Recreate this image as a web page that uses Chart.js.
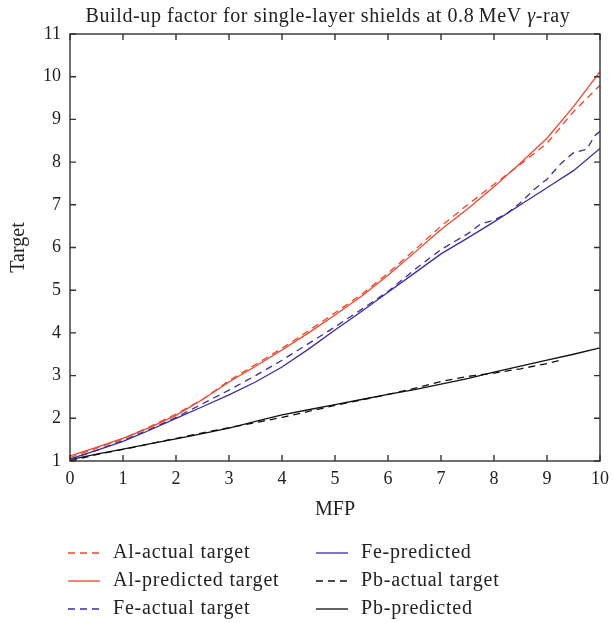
<!DOCTYPE html>
<html>
<head>
<meta charset="utf-8">
<script src="https://cdn.jsdelivr.net/npm/chart.js@4/dist/chart.umd.min.js"></script>
<style>
  html, body { margin: 0; padding: 0; background: #fff; }
  #wrap { width: 613px; height: 622px; }
</style>
</head>
<body>
<div id="wrap"><canvas id="buildup"></canvas></div>
<script>
// MFP values (x) shared by most series
var mfp = [0, 0.5, 1, 1.5, 2, 2.5, 3, 3.5, 4, 4.5, 5, 5.5, 6, 6.5, 7, 7.5, 8, 8.5, 9, 9.5, 10];

// Al
var alActual    = [1.08, 1.30, 1.52, 1.80, 2.10, 2.44, 2.88, 3.26, 3.64, 4.05, 4.47, 4.90, 5.40, 5.94, 6.50, 7.00, 7.48, 7.95, 8.44, 9.18, 9.80];
var alPredicted = [1.12, 1.32, 1.53, 1.78, 2.07, 2.44, 2.85, 3.22, 3.60, 4.00, 4.42, 4.86, 5.35, 5.88, 6.42, 6.90, 7.42, 7.98, 8.56, 9.30, 10.12];

// Fe
var feActualMfp = [0, 0.5, 1, 1.5, 2, 2.5, 3, 3.5, 4, 4.5, 5, 5.5, 6, 6.5, 7, 7.5, 7.75, 8, 8.25, 8.5, 8.75, 9, 9.25, 9.5, 9.75, 9.9, 10];
var feActual    = [1.03, 1.25, 1.48, 1.74, 2.02, 2.34, 2.66, 3.00, 3.36, 3.75, 4.14, 4.55, 4.97, 5.48, 5.95, 6.32, 6.55, 6.64, 6.80, 7.05, 7.35, 7.60, 7.95, 8.22, 8.30, 8.62, 8.72];
var fePredicted = [1.05, 1.25, 1.46, 1.72, 2.00, 2.27, 2.55, 2.85, 3.20, 3.62, 4.07, 4.50, 4.95, 5.40, 5.85, 6.22, 6.60, 7.00, 7.40, 7.80, 8.32];

// Pb
var pbActualMfp = [0, 0.5, 1, 1.5, 2, 2.5, 3, 3.5, 4, 4.5, 5, 5.5, 6, 6.5, 7, 7.5, 8, 8.5, 9, 9.25];
var pbActual    = [1.00, 1.15, 1.27, 1.40, 1.53, 1.66, 1.78, 1.90, 2.02, 2.16, 2.30, 2.43, 2.56, 2.70, 2.86, 2.98, 3.06, 3.16, 3.28, 3.36];
var pbPredicted = [1.03, 1.16, 1.28, 1.40, 1.52, 1.64, 1.77, 1.93, 2.08, 2.20, 2.32, 2.44, 2.56, 2.67, 2.80, 2.93, 3.08, 3.22, 3.36, 3.50, 3.65];

// axis ticks
var xTicks = [0, 1, 2, 3, 4, 5, 6, 7, 8, 9, 10];
var yTicks = [1, 2, 3, 4, 5, 6, 7, 8, 9, 10, 11];

var RED = '#f2452b';
var BLUE = '#3a2f9f';
var BLACK = '#111111';
var DASH = [7, 5];
var SERIF = '"Liberation Serif", "DejaVu Serif", serif';

var toPoints = function(xs, ys) {
    return xs.map(function(x, i) { return { x: x, y: ys[i] }; });
};

var lineSet = function(label, xs, ys, color, dashed) {
    return {
        label: label,
        data: toPoints(xs, ys),
        borderColor: color,
        backgroundColor: color,
        borderWidth: 1.3,
        borderDash: dashed ? DASH : [],
        pointRadius: 0,
        tension: 0,
        fill: false
    };
};

//タイトル（γはイタリック）
var titlePlugin = {
    id: 'titleText',
    afterDraw: function(chart) {
        var ctx = chart.ctx;
        var parts = [
            { t: 'Build-up factor for single-layer shields at 0.8\u2009MeV ', f: '20px ' + SERIF },
            { t: '\u03b3', f: 'italic 20px ' + SERIF },
            { t: '-ray', f: '20px ' + SERIF }
        ];
        ctx.save();
        ctx.fillStyle = '#222';
        ctx.textBaseline = 'middle';
        ctx.letterSpacing = '0.6px';
        var w = 0;
        parts.forEach(function(p) { ctx.font = p.f; w += ctx.measureText(p.t).width; });
        var x = 328 - w / 2;
        parts.forEach(function(p) {
            ctx.font = p.f;
            ctx.fillText(p.t, x, 17);
            x += ctx.measureText(p.t).width;
        });
        ctx.restore();
    }
};

//枠と内向きの目盛り
var framePlugin = {
    id: 'frame',
    afterDatasetsDraw: function(chart) {
        var ctx = chart.ctx;
        var a = chart.chartArea;
        var sx = chart.scales.x;
        var sy = chart.scales.y;
        var len = 6;
        ctx.save();
        ctx.strokeStyle = '#333';
        ctx.lineWidth = 1.4;
        ctx.beginPath();
        xTicks.forEach(function(v) {
            var px = sx.getPixelForValue(v);
            ctx.moveTo(px, a.bottom); ctx.lineTo(px, a.bottom - len);
            ctx.moveTo(px, a.top); ctx.lineTo(px, a.top + len);
        });
        yTicks.forEach(function(v) {
            var py = sy.getPixelForValue(v);
            ctx.moveTo(a.left, py); ctx.lineTo(a.left + len, py);
            ctx.moveTo(a.right, py); ctx.lineTo(a.right - len, py);
        });
        ctx.stroke();
        ctx.strokeRect(a.left, a.top, a.right - a.left, a.bottom - a.top);
        ctx.restore();
    }
};

//凡例（2列）
var legendPlugin = {
    id: 'twoColLegend',
    afterDraw: function(chart) {
        var ctx = chart.ctx;
        var sets = chart.data.datasets;
        var cols = [68, 316];
        var rows = [553, 581, 609];
        ctx.save();
        ctx.font = '20px ' + SERIF;
        ctx.letterSpacing = '0.8px';
        ctx.textBaseline = 'middle';
        sets.forEach(function(ds, i) {
            var x = cols[Math.floor(i / 3)];
            var y = rows[i % 3];
            ctx.strokeStyle = ds.borderColor;
            ctx.lineWidth = 1.3;
            ctx.setLineDash(ds.borderDash);
            ctx.beginPath();
            ctx.moveTo(x, y); ctx.lineTo(x + 32, y);
            ctx.stroke();
            ctx.setLineDash([]);
            ctx.fillStyle = '#222';
            ctx.fillText(ds.label, x + 45, y);
        });
        ctx.restore();
    }
};

var ctx = document.getElementById('buildup').getContext('2d');
var chart = new Chart(ctx, {
    type: 'line',
    data: {
        datasets: [
            lineSet('Al-actual target', mfp, alActual, RED, true),
            lineSet('Al-predicted target', mfp, alPredicted, RED, false),
            lineSet('Fe-actual target', feActualMfp, feActual, BLUE, true),
            lineSet('Fe-predicted', mfp, fePredicted, BLUE, false),
            lineSet('Pb-actual target', pbActualMfp, pbActual, BLACK, true),
            lineSet('Pb-predicted', mfp, pbPredicted, BLACK, false)
        ]
    },
    options: {
        responsive: true,
        maintainAspectRatio: false,
        animation: false,
        layout: { padding: { top: 34, right: 13, bottom: 100, left: 0 } },
        plugins: {
            legend: { display: false },
            tooltip: { enabled: false }
        },
        scales: {
            x: {
                type: 'linear',
                min: 0,
                max: 10,
                afterBuildTicks: function(s) { s.ticks = xTicks.map(function(v) { return { value: v }; }); },
                afterFit: function(s) { s.height = 61; s.paddingLeft = 0; s.paddingRight = 0; },
                ticks: { color: '#222', font: { family: SERIF, size: 18 }, padding: 7, maxRotation: 0 },
                grid: { drawOnChartArea: false, drawTicks: false },
                border: { display: false },
                title: { display: true, text: 'MFP', color: '#222', font: { family: SERIF, size: 20 }, padding: { top: 4, bottom: 0 } }
            },
            y: {
                type: 'linear',
                min: 1,
                max: 11,
                afterBuildTicks: function(s) { s.ticks = yTicks.map(function(v) { return { value: v }; }); },
                afterFit: function(s) { s.width = 70; },
                ticks: { color: '#222', font: { family: SERIF, size: 18 }, padding: 9 },
                grid: { drawOnChartArea: false, drawTicks: false },
                border: { display: false },
                title: { display: true, text: 'Target', color: '#222', font: { family: SERIF, size: 20 }, padding: { top: 7, bottom: 4 } }
            }
        }
    },
    plugins: [titlePlugin, framePlugin, legendPlugin]
});
</script>
</body>
</html>
